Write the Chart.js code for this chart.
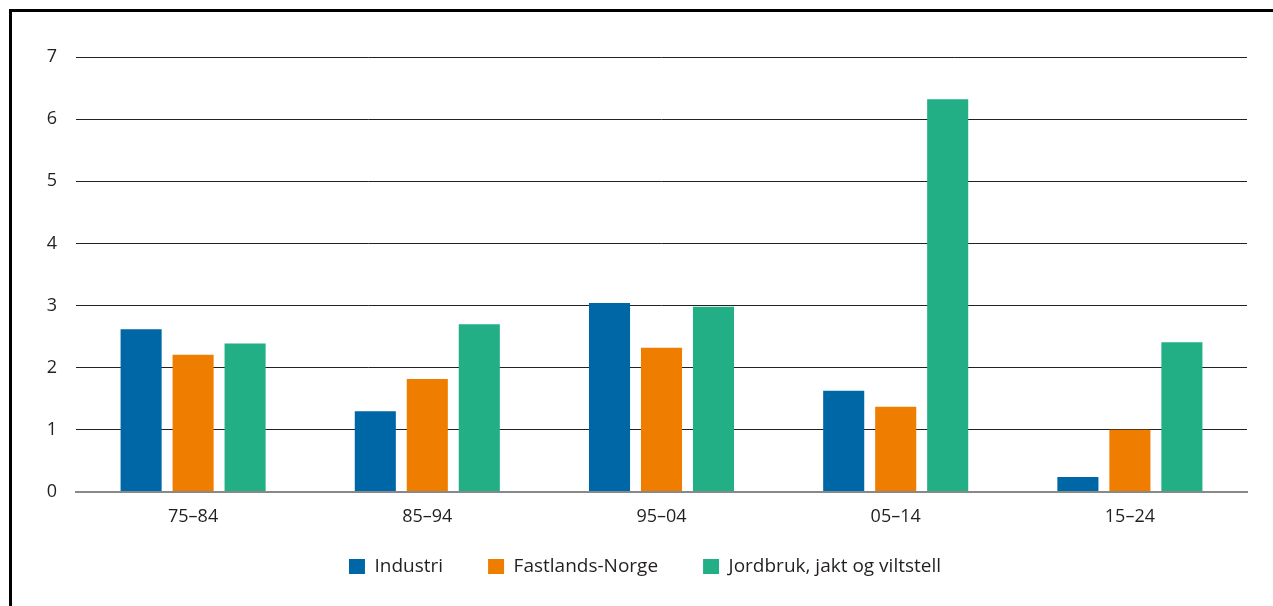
<!DOCTYPE html>
<html>
<head>
<meta charset="utf-8">
<script src="https://cdn.jsdelivr.net/npm/chart.js@4"></script>
<style>
  html, body { margin: 0; padding: 0; background: #fff; }
  body { width: 1273px; height: 606px; position: relative; overflow: hidden; }
  .frame {
    position: absolute; left: 9px; top: 9px; right: -5px; bottom: -5px;
    border-left: 3px solid #000; border-top: 3px solid #000;
  }
  #wrap { position: absolute; left: 0; top: 0; width: 1273px; height: 606px; }
</style>
</head>
<body>
<div class="frame"></div>
<div id="wrap"><canvas id="chart"></canvas></div>
<script>
const categories = ["75\u201384", "85\u201394", "95\u201304", "05\u201314", "15\u201324"];
const industri = [2.62, 1.30, 3.04, 1.63, 0.24];
const fastland = [2.21, 1.82, 2.32, 1.37, 1.00];
const jordbruk = [2.39, 2.70, 2.98, 6.32, 2.41];
const seriesNames = ["Industri", "Fastlands-Norge", "Jordbruk, jakt og viltstell"];
const seriesColors = ["#0067a6", "#ef7d00", "#23af86"];
const yTicks = [0, 1, 2, 3, 4, 5, 6, 7];

Chart.defaults.font.family = "'Open Sans', 'Noto Sans', sans-serif";
Chart.defaults.color = "#231f20";

const datasets = [industri, fastland, jordbruk].map((d, i) => ({
    label: seriesNames[i],
    data: d,
    backgroundColor: seriesColors[i],
    categoryPercentage: 0.666,
    barPercentage: 0.79,
}));

// legend padding also sets the gap between items, which makes its box tall;
// pull it up a bit after layout so it sits closer to the axis labels
const legendNudge = {
    id: "legendNudge",
    afterLayout(chart) {
        const lg = chart.legend;
        if (lg) {
            lg.top -= 20;
            lg.bottom -= 20;
        }
    },
};

new Chart(document.getElementById("chart"), {
    type: "bar",
    data: { labels: categories, datasets },
    plugins: [legendNudge],
    options: {
        responsive: true,
        maintainAspectRatio: false,
        animation: false,
        layout: { padding: { left: 43, right: 26, top: 57, bottom: 0 } },
        plugins: {
            tooltip: { enabled: false },
            legend: {
                position: "bottom",
                labels: {
                    boxWidth: 16,
                    boxHeight: 15,
                    padding: 45,
                    font: { size: 19 },
                    color: "#231f20",
                },
            },
        },
        scales: {
            y: {
                min: 0,
                max: 7,
                afterFit: (s) => { s.width = 33; },
                afterBuildTicks: (s) => { s.ticks = yTicks.map((v) => ({ value: v })); },
                ticks: { padding: 19, font: { size: 18 } },
                border: { display: false },
                grid: {
                    drawTicks: false,
                    color: (c) => (c.tick && c.tick.value === 0 ? "#888" : "#222"),
                    lineWidth: (c) => (c.tick && c.tick.value === 0 ? 2 : 1),
                },
            },
            x: {
                afterFit: (s) => { s.height = 40; },
                ticks: { padding: 14, font: { size: 18 } },
                grid: { display: false, drawTicks: false },
                border: { color: "#888", width: 2 },
            },
        },
    },
});
</script>
</body>
</html>
